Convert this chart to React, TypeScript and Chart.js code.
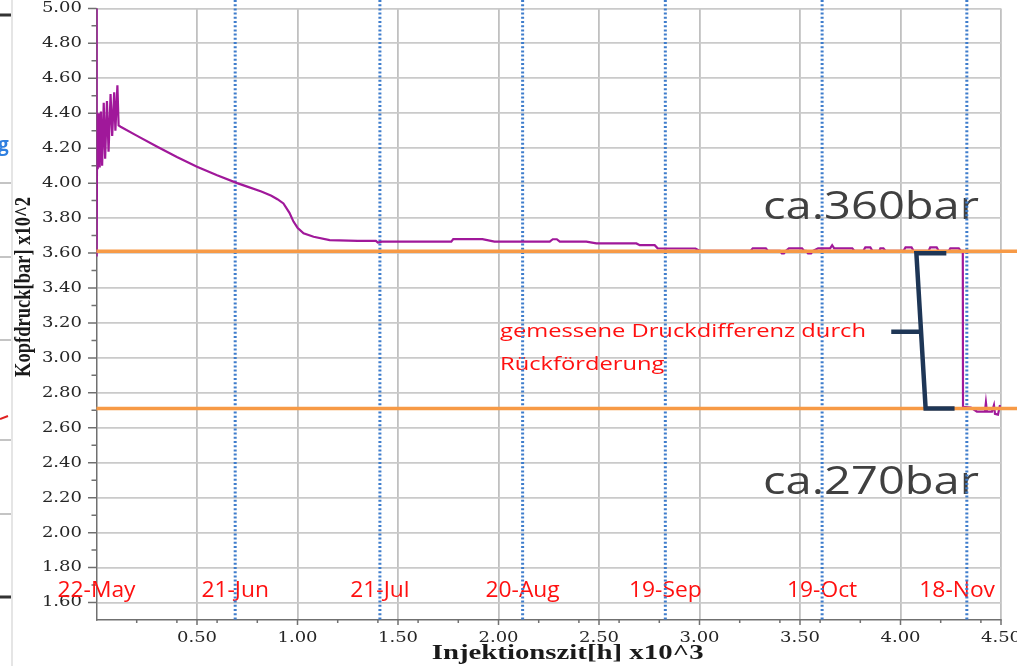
import React, { useEffect, useRef } from 'react';
import { Chart, registerables } from 'chart.js';

Chart.register(...registerables);

// ---- data (hours x10^3, head pressure bar x10^2) ----
const hours = [
  0, 0.001, 0.003, 0.006, 0.012, 0.016, 0.022, 0.028, 0.036, 0.043, 0.052, 0.06, 0.07, 0.078, 0.088, 0.094, 0.104, 0.11, 0.12,
  0.2, 0.3, 0.4, 0.5, 0.6, 0.7, 0.75, 0.82, 0.87, 0.9, 0.93, 0.96, 0.98, 1.0, 1.03, 1.08, 1.16, 1.3, 1.39, 1.4, 1.42,
  1.765, 1.775, 1.92, 1.98, 2.255, 2.27, 2.29, 2.305, 2.437, 2.487, 2.686, 2.703, 2.777, 2.792, 2.98, 3.0,
  3.255, 3.265, 3.33, 3.34, 3.4, 3.41, 3.42, 3.43, 3.445, 3.51, 3.52, 3.53, 3.54, 3.555, 3.565, 3.59, 3.65, 3.66, 3.67,
  3.76, 3.77, 3.815, 3.825, 3.85, 3.86, 3.895, 3.9, 3.915, 3.925, 4.015, 4.025, 4.055, 4.065, 4.14, 4.148, 4.18, 4.19,
  4.24, 4.248, 4.29, 4.3, 4.31, 4.311, 4.35, 4.38, 4.42, 4.425, 4.43, 4.455, 4.465, 4.47, 4.485, 4.495,
];
const pressure = [
  5.15, 3.58, 4.37, 4.08, 4.4, 4.09, 4.41, 4.1, 4.46, 4.14, 4.47, 4.18, 4.51, 4.27, 4.52, 4.3, 4.56, 4.33, 4.323,
  4.272, 4.21, 4.15, 4.094, 4.045, 4.0, 3.98, 3.952, 3.928, 3.908, 3.884, 3.83, 3.78, 3.745, 3.713, 3.693, 3.674, 3.67, 3.67, 3.66, 3.665,
  3.665, 3.68, 3.68, 3.665, 3.665, 3.679, 3.679, 3.665, 3.665, 3.655, 3.655, 3.645, 3.645, 3.627, 3.626, 3.613,
  3.613, 3.627, 3.627, 3.613, 3.613, 3.598, 3.598, 3.613, 3.627, 3.627, 3.613, 3.613, 3.598, 3.598, 3.613, 3.627, 3.627, 3.645, 3.627,
  3.627, 3.613, 3.613, 3.632, 3.632, 3.613, 3.613, 3.627, 3.627, 3.613, 3.613, 3.632, 3.632, 3.613, 3.613, 3.632, 3.632, 3.613,
  3.613, 3.627, 3.627, 3.613, 3.613, 2.72, 2.715, 2.693, 2.693, 2.745, 2.693, 2.693, 2.73, 2.68, 2.675, 2.73,
];

const xTickValues = [0.5, 1.0, 1.5, 2.0, 2.5, 3.0, 3.5, 4.0, 4.5];
const yTickValues = [1.6, 1.8, 2.0, 2.2, 2.4, 2.6, 2.8, 3.0, 3.2, 3.4, 3.6, 3.8, 4.0, 4.2, 4.4, 4.6, 4.8, 5.0];
const xMinorTicks = [0.2, 0.4, 0.6, 0.8, 1.2, 1.4, 1.6, 1.8, 2.2, 2.4, 2.6, 2.8, 3.2, 3.4, 3.6, 3.8, 4.2, 4.4];
const yMinorTicks = [1.7, 1.9, 2.1, 2.3, 2.5, 2.7, 2.9, 3.1, 3.3, 3.5, 3.7, 3.9, 4.1, 4.3, 4.5, 4.7, 4.9];

const dateLabels = ['22-May', '21-Jun', '21-Jul', '20-Aug', '19-Sep', '19-Oct', '18-Nov'];
const dateHours = [0, 0.69, 1.41, 2.12, 2.83, 3.61, 4.33];

const levelValues = [3.61, 2.71];
const levelTexts = ['ca.360bar', 'ca.270bar'];
const noteLines = ['gemessene Druckdifferenz durch', 'Rückförderung'];
const xTitle = 'Injektionszit[h] x10^3';
const yTitle = 'Kopfdruck[bar] x10^2';

// bracket (data coords): top end, top corner, bottom corner, bottom end, mid-tick start/end
const bracketX = [4.228, 4.079, 4.125, 4.269];
const bracketMid = { x0: 3.954, x1: 4.102, y: 3.149 };

function drawStretched(
  ctx: CanvasRenderingContext2D, text: string, x: number, y: number, font: string, color: string,
  sx: number, align: CanvasTextAlign = 'left', baseline: CanvasTextBaseline = 'alphabetic'
) {
  ctx.save();
  ctx.font = font;
  ctx.fillStyle = color;
  ctx.textAlign = align;
  ctx.textBaseline = baseline;
  ctx.translate(x, y);
  ctx.scale(sx, 1);
  ctx.fillText(text, 0, 0);
  ctx.restore();
}

function scaleFor(ctx: CanvasRenderingContext2D, text: string, font: string, width: number) {
  ctx.save();
  ctx.font = font;
  const w = ctx.measureText(text).width;
  ctx.restore();
  return width / w;
}

const decor = {
  id: 'decor',
  beforeDatasetsDraw(chart: any) {
    const { ctx, chartArea, scales } = chart;
    const x = scales.x;
    const y = scales.y;
    ctx.save();
    // tick marks
    ctx.strokeStyle = '#707070';
    ctx.lineWidth = 1.5;
    ctx.beginPath();
    yTickValues.forEach((v) => {
      const py = y.getPixelForValue(v);
      ctx.moveTo(chartArea.left - 8.5, py);
      ctx.lineTo(chartArea.left, py);
    });
    yMinorTicks.forEach((v) => {
      const py = y.getPixelForValue(v);
      ctx.moveTo(chartArea.left - 5, py);
      ctx.lineTo(chartArea.left, py);
    });
    xTickValues.forEach((v) => {
      const px = x.getPixelForValue(v);
      ctx.moveTo(px, chartArea.bottom);
      ctx.lineTo(px, chartArea.bottom + 5);
    });
    xMinorTicks.forEach((v) => {
      const px = x.getPixelForValue(v);
      ctx.moveTo(px, chartArea.bottom);
      ctx.lineTo(px, chartArea.bottom + 3);
    });
    ctx.stroke();

    // tick labels
    const tickFont = '15px "DejaVu Serif"';
    yTickValues.forEach((v) => {
      drawStretched(ctx, v.toFixed(2), chartArea.left - 14.5, y.getPixelForValue(v), tickFont, '#262626', 1.2, 'right', 'middle');
    });
    xTickValues.forEach((v) => {
      drawStretched(ctx, v.toFixed(2), x.getPixelForValue(v), chartArea.bottom + 18, tickFont, '#262626', 1.2, 'center', 'middle');
    });

    // big level texts
    const bigFont = '39px "Open Sans"';
    const bigSx = scaleFor(ctx, levelTexts[0], bigFont, 216);
    drawStretched(ctx, levelTexts[0], 763, 218.5, bigFont, '#404040', bigSx);
    drawStretched(ctx, levelTexts[1], 763, 493.5, bigFont, '#404040', bigSx);

    // red annotation
    const noteFont = '19px "Open Sans"';
    const noteSx = scaleFor(ctx, noteLines[0], noteFont, 366);
    drawStretched(ctx, noteLines[0], 500, 337, noteFont, '#ff1010', noteSx);
    drawStretched(ctx, noteLines[1], 500, 370, noteFont, '#ff1010', noteSx);

    // date labels
    const dateFont = '21px "Open Sans"';
    const dateSx = scaleFor(ctx, dateLabels[0], dateFont, 78);
    dateLabels.forEach((lab, i) => {
      ctx.save();
      ctx.font = dateFont;
      const w = ctx.measureText(lab).width * dateSx;
      ctx.restore();
      let cx = x.getPixelForValue(dateHours[i]);
      if (cx + w / 2 > 995) cx = 995 - w / 2;
      drawStretched(ctx, lab, cx, 596.7, dateFont, '#ff1010', dateSx, 'center');
    });

    // blue dotted date lines
    ctx.strokeStyle = '#3f7dcc';
    ctx.lineWidth = 3;
    ctx.setLineDash([2, 2.2]);
    ctx.beginPath();
    dateHours.forEach((h) => {
      if (h <= 0) return;
      const px = x.getPixelForValue(h);
      ctx.moveTo(px, 0);
      ctx.lineTo(px, chartArea.bottom);
    });
    ctx.stroke();
    ctx.setLineDash([]);
    ctx.restore();
  },
  afterDatasetsDraw(chart: any) {
    const { ctx, chartArea, scales } = chart;
    const x = scales.x;
    const y = scales.y;
    ctx.save();
    // orange level lines
    ctx.strokeStyle = '#f79a46';
    ctx.lineWidth = 3.5;
    ctx.beginPath();
    levelValues.forEach((v) => {
      const py = y.getPixelForValue(v);
      ctx.moveTo(chartArea.left, py);
      ctx.lineTo(chart.width, py);
    });
    ctx.stroke();

    // bracket
    const yTop = y.getPixelForValue(levelValues[0]) + 2;
    const yBot = y.getPixelForValue(levelValues[1]);
    ctx.strokeStyle = '#1e3656';
    ctx.lineWidth = 4.5;
    ctx.lineJoin = 'miter';
    ctx.beginPath();
    ctx.moveTo(x.getPixelForValue(bracketX[0]), yTop);
    ctx.lineTo(x.getPixelForValue(bracketX[1]), yTop);
    ctx.lineTo(x.getPixelForValue(bracketX[2]), yBot);
    ctx.lineTo(x.getPixelForValue(bracketX[3]), yBot);
    ctx.moveTo(x.getPixelForValue(bracketMid.x0), y.getPixelForValue(bracketMid.y));
    ctx.lineTo(x.getPixelForValue(bracketMid.x1), y.getPixelForValue(bracketMid.y));
    ctx.stroke();
    ctx.restore();
  },
  afterDraw(chart: any) {
    const { ctx } = chart;
    ctx.save();
    // x title
    const xtFont = 'bold 21px "Liberation Serif"';
    const xtSx = scaleFor(ctx, xTitle, xtFont, 272);
    drawStretched(ctx, xTitle, 431.7, 659.3, xtFont, '#1a1a1a', xtSx);

    // y title (rotated)
    const ytFont = 'bold 19px "Liberation Serif"';
    ctx.font = ytFont;
    const ytw = ctx.measureText(yTitle).width;
    ctx.save();
    ctx.translate(24.5, 287);
    ctx.scale(1.2, 180 / ytw);
    ctx.rotate(-Math.PI / 2);
    ctx.fillStyle = '#1a1a1a';
    ctx.textAlign = 'center';
    ctx.textBaseline = 'middle';
    ctx.fillText(yTitle, 0, 0);
    ctx.restore();

    // left-edge remnants of the surrounding window
    ctx.strokeStyle = '#dcdcdc';
    ctx.lineWidth = 1.5;
    ctx.beginPath();
    ctx.moveTo(12, 0);
    ctx.lineTo(12, 666);
    ctx.stroke();
    ctx.strokeStyle = '#c4c4c4';
    ctx.lineWidth = 2;
    ctx.beginPath();
    [183, 257, 340, 440, 514].forEach((py) => {
      ctx.moveTo(0, py);
      ctx.lineTo(11, py);
    });
    ctx.stroke();
    ctx.strokeStyle = '#333';
    ctx.lineWidth = 3;
    ctx.beginPath();
    ctx.moveTo(0, 15);
    ctx.lineTo(11, 15);
    ctx.moveTo(0, 597);
    ctx.lineTo(11, 597);
    ctx.stroke();
    ctx.strokeStyle = '#e02020';
    ctx.lineWidth = 2;
    ctx.beginPath();
    ctx.moveTo(0, 419);
    ctx.lineTo(8, 416);
    ctx.stroke();
    ctx.font = 'bold 19px "Open Sans"';
    ctx.fillStyle = '#2f7fe0';
    ctx.textAlign = 'left';
    ctx.textBaseline = 'alphabetic';
    ctx.fillText('g', -2, 151);
    ctx.restore();
  },
};

export default function App() {
  const canvasRef = useRef<HTMLCanvasElement | null>(null);

  useEffect(() => {
    const canvas = canvasRef.current;
    if (!canvas) return;
    const chart = new Chart(canvas, {
      type: 'line',
      data: {
        datasets: [
          {
            data: hours.map((h, i) => ({ x: h, y: pressure[i] })),
            borderColor: '#a0189a',
            borderWidth: 2.2,
            pointRadius: 0,
            tension: 0,
            fill: false,
          },
        ],
      },
      options: {
        animation: false,
        responsive: false,
        devicePixelRatio: 1,
        layout: { padding: { left: 0, right: 16, top: 8.4, bottom: 0 } },
        plugins: { legend: { display: false }, tooltip: { enabled: false } },
        scales: {
          x: {
            type: 'linear',
            min: 0,
            max: 4.5,
            afterBuildTicks: (s: any) => {
              s.ticks = xTickValues.map((v) => ({ value: v }));
            },
            afterFit: (s: any) => {
              s.height = 46;
              s.paddingLeft = 0;
              s.paddingRight = 0;
            },
            ticks: { display: false },
            grid: { color: '#c0c0c0', lineWidth: 1.8, drawTicks: false },
            border: { color: '#707070', width: 1.5 },
          },
          y: {
            type: 'linear',
            min: 1.5,
            max: 5.0,
            afterBuildTicks: (s: any) => {
              s.ticks = yTickValues.map((v) => ({ value: v }));
            },
            afterFit: (s: any) => {
              s.width = 96.5;
              s.paddingTop = 0;
              s.paddingBottom = 0;
            },
            ticks: { display: false },
            grid: { color: '#cacaca', lineWidth: 1.8, drawTicks: false },
            border: { color: '#707070', width: 1.5 },
          },
        },
      },
      plugins: [decor],
    } as any);
    return () => chart.destroy();
  }, []);

  return (
    <div style={{ position: 'absolute', left: 0, top: 0, width: 1017, height: 666, background: '#fff' }}>
      <canvas ref={canvasRef} width={1017} height={666} style={{ display: 'block' }} />
    </div>
  );
}
